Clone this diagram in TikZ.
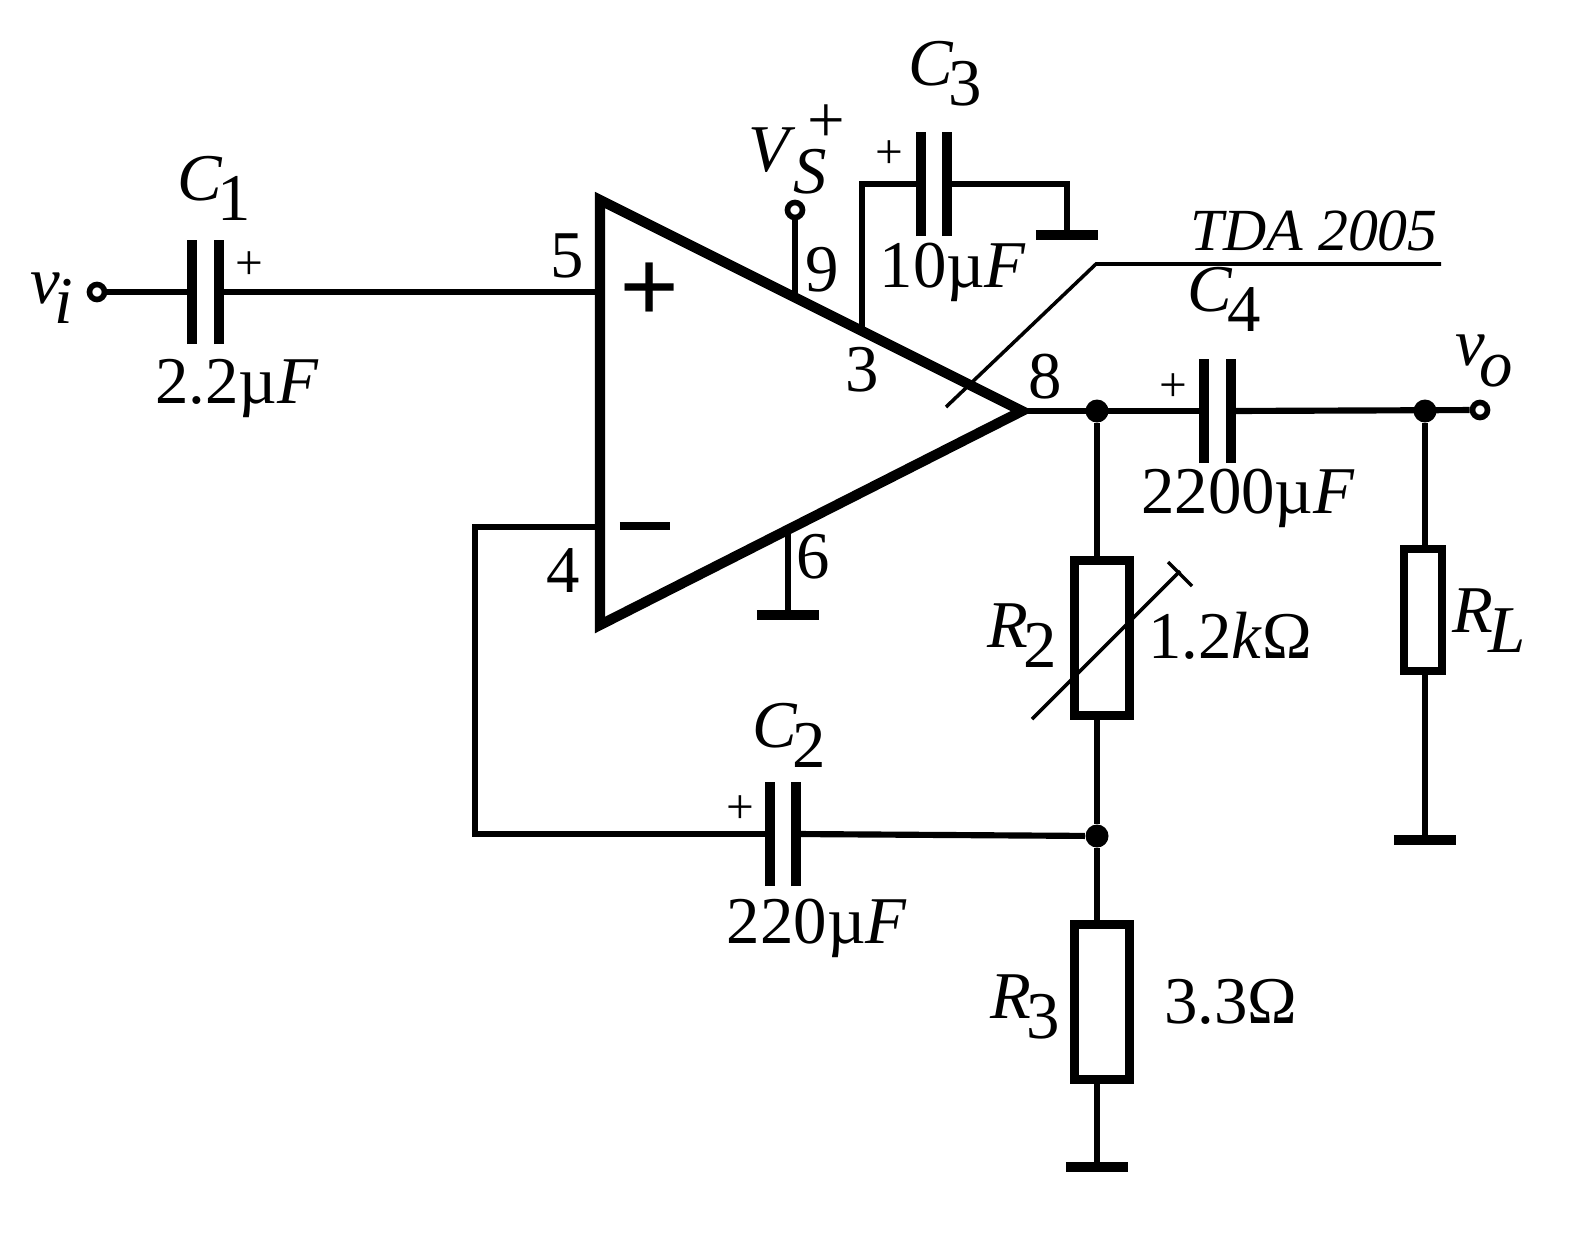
\documentclass[tikz,border=0pt]{standalone}
\usepackage{fontspec}
\setmainfont{Liberation Serif}
\usepackage{tikz}
\newcommand{\sublab}[2]{\textit{#1}\kern-.08em\raisebox{-.3em}{#2}}
\newcommand{\microF}[1]{#1µ\textit{F}}
\tikzset{
   wire/.style={line width=1.75pt},
   plate/.style={line width=2.6pt},
   ampline/.style={line width=2.9pt,line join=miter},
   thinline/.style={line width=1pt},
   res/.style={draw,rectangle,line width=2.4pt,minimum width=#1,inner sep=0pt},
   dot/.style={circle,fill=black,inner sep=0pt,minimum size=0.23cm},
   term/.style={circle,draw,line width=1.6pt,fill=white,inner sep=0pt,minimum size=0.15cm},
   lab/.style={inner sep=0pt,font=\fontsize{19pt}{19pt}\selectfont},
   smalllab/.style={inner sep=0pt,font=\fontsize{14pt}{14pt}\selectfont}
}
\begin{document}
\begin{tikzpicture}[x=0.01cm,y=-0.01cm]
   \useasboundingbox (0,0) rectangle (1569,1248);
   % amplifier
   \coordinate(ampa) at (600,200);
   \coordinate(ampb) at (600,625);
   \coordinate(ampc) at (1022,411);
   \draw[ampline](ampa) -- (ampb) -- (ampc) -- cycle;
   \node[lab,font=\fontsize{30pt}{30pt}\selectfont\bfseries](plus) at (650,293) {+};
   \node[lab,font=\fontsize{30pt}{30pt}\selectfont\bfseries](minus) at (645,526) {\rule{0.5cm}{0.08cm}};

   % terminals and junctions
   \node[term](vi) at (97,292) {};
   \node[term](vo) at (1480,410) {};
   \node[term](vs) at (795,210) {};
   \node[dot](ja) at (1097,411) {};
   \node[dot](jb) at (1425,411) {};
   \node[dot](jc) at (1097,836) {};

   % resistors
   \node[res=0.55cm,minimum height=1.55cm](r2) at (1102,638) {};
   \node[res=0.38cm,minimum height=1.22cm](rl) at (1423,610) {};
   \node[res=0.55cm,minimum height=1.55cm](r3) at (1102,1002) {};

   % capacitor points
   \coordinate(c1a) at (192,292);
   \coordinate(c1b) at (219,292);
   \coordinate(c2a) at (770,834);
   \coordinate(c2b) at (796,834);
   \coordinate(c3a) at (921,184);
   \coordinate(c3b) at (947,184);
   \coordinate(c4a) at (1204,411);
   \coordinate(c4b) at (1231,411);

   % plates
   \draw[plate]([yshift=-0.52cm]c1a) -- ([yshift=0.52cm]c1a);
   \draw[plate]([yshift=-0.52cm]c1b) -- ([yshift=0.52cm]c1b);
   \draw[plate]([yshift=-0.52cm]c2a) -- ([yshift=0.52cm]c2a);
   \draw[plate]([yshift=-0.52cm]c2b) -- ([yshift=0.52cm]c2b);
   \draw[plate]([yshift=-0.52cm]c3a) -- ([yshift=0.52cm]c3a);
   \draw[plate]([yshift=-0.52cm]c3b) -- ([yshift=0.52cm]c3b);
   \draw[plate]([yshift=-0.52cm]c4a) -- ([yshift=0.52cm]c4a);
   \draw[plate]([yshift=-0.52cm]c4b) -- ([yshift=0.52cm]c4b);

   % pins and grounds
   \coordinate(pinfive) at (600,292);
   \coordinate(pinfour) at (600,527);
   \coordinate(pinnine) at (795,296);
   \coordinate(pinthree) at (862,330);
   \coordinate(pinsix) at (788,531);
   \coordinate(gnda) at (788,615);
   \coordinate(gndb) at (1067,235);
   \coordinate(gndc) at (1425,840);
   \coordinate(gndd) at (1097,1167);
   \coordinate(fba) at (475,527);
   \coordinate(fbb) at (475,834);
   \coordinate(tpa) at (862,184);
   \coordinate(tpb) at (1067,184);

   % wires
   \draw[wire](vi) to (c1a);
   \draw[wire](c1b) to (pinfive);
   \draw[wire](pinfour) -- (fba) -- (fbb) -- (c2a);
   \draw[wire](c2b) to (jc);
   \draw[wire](pinnine) to (vs);
   \draw[wire](pinthree) -- (tpa) -- (c3a);
   \draw[wire](c3b) -- (tpb) -- (gndb);
   \draw[wire](pinsix) to (gnda);
   \draw[wire](ampc) to (c4a);
   \draw[wire](c4b) to (vo);
   \draw[wire](ja) to (r2.north -| ja);
   \draw[wire](r2.south -| jc) to (jc);
   \draw[wire](jc) to (r3.north -| jc);
   \draw[wire](r3.south -| gndd) to (gndd);
   \draw[wire](jb) to (rl.north -| jb);
   \draw[wire](rl.south -| jb) to (gndc);

   % ground bars
   \draw[plate]([xshift=-0.31cm]gnda) -- ([xshift=0.31cm]gnda);
   \draw[plate]([xshift=-0.31cm]gndb) -- ([xshift=0.31cm]gndb);
   \draw[plate]([xshift=-0.31cm]gndc) -- ([xshift=0.31cm]gndc);
   \draw[plate]([xshift=-0.31cm]gndd) -- ([xshift=0.31cm]gndd);

   % pointer and trimmer
   \coordinate(tda) at (946,407);
   \coordinate(tdb) at (1096,264);
   \coordinate(tdc) at (1441,264);
   \draw[thinline](tda) -- (tdb) -- (tdc);
   \coordinate(arra) at (1032,719);
   \coordinate(arrb) at (1180,571);
   \coordinate(arrc) at (1168,562);
   \coordinate(arrd) at (1192,586);
   \draw[thinline](arra) -- (arrb);
   \draw[thinline](arrc) -- (arrd);

   % labels
   \node[lab](lvi) at (52,298) {\sublab{v}{\textit{i}}};
   \node[lab](lvo) at (1484,361) {\sublab{v}{\textit{o}}};
   \node[lab](lcone) at (214,188) {\sublab{C}{1}};
   \node[lab](lctwo) at (789,735) {\sublab{C}{2}};
   \node[lab](lcthree) at (945,74) {\sublab{C}{3}};
   \node[lab](lcfour) at (1224,299) {\sublab{C}{4}};
   \node[lab](lcv1) at (237,388) {\microF{2.2}};
   \node[lab](lcv2) at (817,928) {\microF{220}};
   \node[lab](lcv3) at (953,272) {\microF{10}};
   \node[lab](lcv4) at (1248,498) {\microF{2200}};
   \node[lab](lrtwo) at (1022,636) {\sublab{R}{2}};
   \node[lab](lrthree) at (1025,1007) {\sublab{R}{3}};
   \node[lab](lrl) at (1489,621) {\sublab{R}{\textit{L}}};
   \node[lab](lrv2) at (1230,636) {1.2\textit{k}Ω};
   \node[lab](lrv3) at (1231,1002) {3.3Ω};
   \node[lab,font=\fontsize{17pt}{17pt}\selectfont\itshape](ltda) at (1314,231) {TDA 2005};
   \node[lab](lvs) at (772,150) {\textit{V}};
   \node[lab](lvsb) at (810,172) {\textit{S}};
   \node[lab](lvsp) at (826,124) {+};
   \node[smalllab](pa) at (249,266) {+};
   \node[smalllab](pb) at (740,810) {+};
   \node[smalllab](pc) at (889,155) {+};
   \node[smalllab](pd) at (1173,388) {+};
   \node[lab](nfive) at (567,256) {5};
   \node[lab](nfour) at (563,571) {4};
   \node[lab](nnine) at (822,270) {9};
   \node[lab](nthree) at (862,370) {3};
   \node[lab](neight) at (1045,377) {8};
   \node[lab](nsix) at (813,557) {6};
\end{tikzpicture}
\end{document}
